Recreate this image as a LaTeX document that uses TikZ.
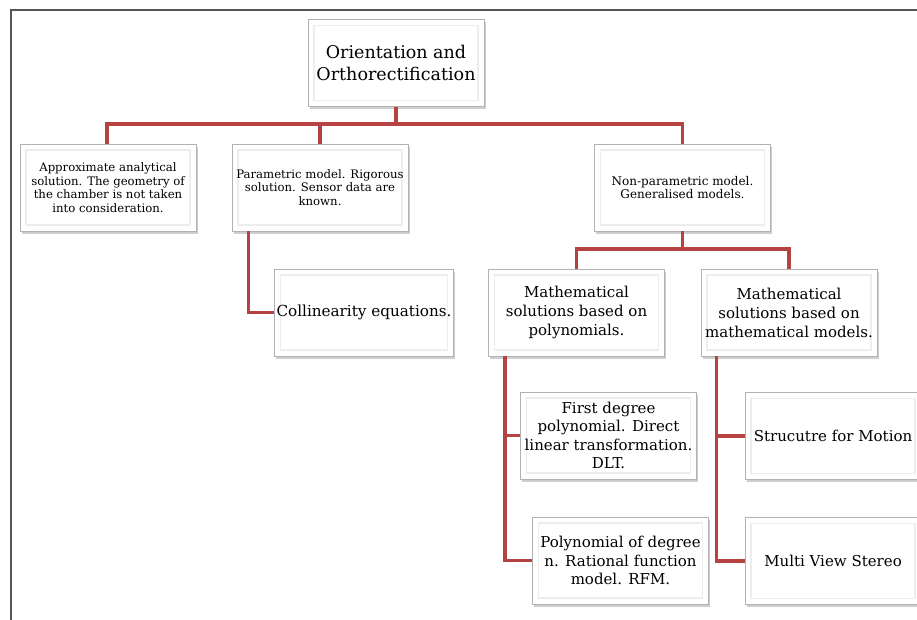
\documentclass[tikz,border=0pt]{standalone}
\usepackage{fontspec}
\setmainfont{DejaVu Serif}
\usetikzlibrary{shadows,calc}
\definecolor{linkred}{RGB}{182,66,66}
\definecolor{framegray}{RGB}{85,85,85}
\newcommand{\fs}[2]{\fontsize{#1}{#2}\selectfont}
\tikzset{
  box/.style={rectangle, draw=gray!60, line width=0.8pt, fill=white,
    minimum width=176pt, minimum height=87pt, inner sep=2pt, align=center,
    drop shadow={opacity=0.5, shadow xshift=1.5pt, shadow yshift=-2.5pt, fill=gray!75},
    path picture={\draw[gray!14, line width=1.2pt]
      ([shift={(6pt,-6pt)}]path picture bounding box.north west) rectangle
      ([shift={(-6pt,6pt)}]path picture bounding box.south east);}},
  link/.style={draw=linkred, line width=3.5pt},
  frameline/.style={draw=framegray, line width=1.6pt},
  smalltxt/.style={font=\fs{11.7}{13.5}},
  bigtxt/.style={font=\fs{15}{19}}
}
\begin{document}
\begin{tikzpicture}[x=1pt,y=-1pt]
\useasboundingbox (0,0) rectangle (917,619);
\clip (0,0) rectangle (917,619);
\fill[white] (0,0) rectangle (917,619);
\coordinate (f1) at (917,10);
\coordinate (f2) at (11,10);
\coordinate (f3) at (11,625);
\draw[frameline] (f1) -- (f2) -- (f3);

\node[box, font=\fs{17.5}{22}] (root) at (396,63) {Orientation and\\Orthorectification};
\node[box, smalltxt] (b1) at (108,187.5) {Approximate analytical\\solution. The geometry of\\the chamber is not taken\\into consideration.};
\node[box, smalltxt] (b2) at (320,187.5) {Parametric model. Rigorous\\solution. Sensor data are\\known.};
\node[box, font=\fs{12}{13.5}] (b3) at (682.5,187.5) {Non-parametric model.\\Generalised models.};
\node[box, font=\fs{15.2}{19}] (col) at (364,312.5) {Collinearity equations.};
\node[box, bigtxt] (b4) at (576.5,312.5) {Mathematical\\solutions based on\\polynomials.};
\node[box, bigtxt] (b5) at (789,312.5) {Mathematical\\solutions based on\\mathematical models.};
\node[box, font=\fs{15}{18.5}] (b6) at (608.5,435.5) {First degree\\polynomial. Direct\\linear transformation.\\DLT.};
\node[box, font=\fs{15}{18.5}] (b7) at (620.5,560.5) {Polynomial of degree\\n. Rational function\\model. RFM.};
\node[box, bigtxt] (b8) at (833,436) {Strucutre for Motion};
\node[box, bigtxt] (b9) at (833,561) {Multi View Stereo};

\coordinate (bar1) at (0,124);
\coordinate (bar2) at (0,249);
\draw[link] (root.south) -- (root.south |- bar1);
\draw[link] ([xshift=-1pt]b1.north) -- ([xshift=-1pt]b1.north |- bar1) -| (b3.north);
\draw[link] (b2.north) -- (b2.north |- bar1);
\draw[link] (b3.south) -- (b3.south |- bar2);
\draw[link] (b4.north) |- (bar2 -| b5.north) -- (b5.north);
\draw[link] ([xshift=17pt]b2.south west) |- (col.west);
\draw[link] ([xshift=17pt]b4.south west) |- (b6.west);
\draw[link] ([xshift=17pt]b4.south west) |- (b7.west);
\draw[link] ([xshift=16pt]b5.south west) |- (b8.west);
\draw[link] ([xshift=16pt]b5.south west) |- (b9.west);
\end{tikzpicture}
\end{document}
